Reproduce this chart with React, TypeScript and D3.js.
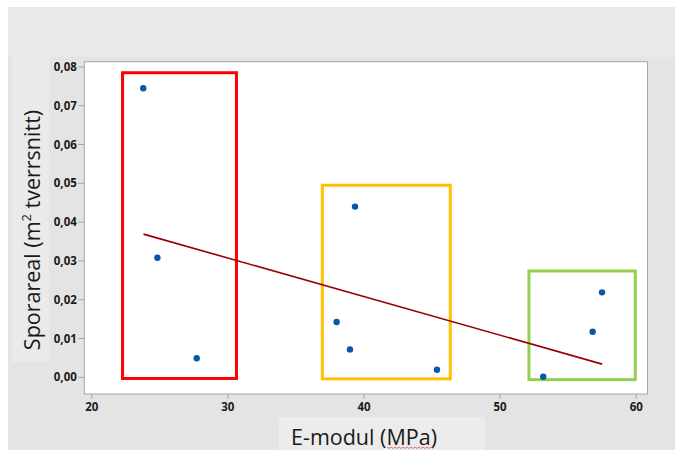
import React, { useEffect, useRef } from "react";
import * as d3 from "d3";

// E-modul (MPa) vs Sporareal (m² tverrsnitt)
const eModul = [23.78, 24.82, 27.71, 39.34, 37.99, 38.97, 45.36, 53.17, 56.8, 57.49];
const sporareal = [0.0745, 0.0308, 0.0049, 0.044, 0.01425, 0.0072, 0.00196, 0.00015, 0.01175, 0.0219];

// fitted line endpoints
const fitX = [23.8, 57.5];
const fitY = [0.0369, 0.0034];

// annotation boxes
const boxNames = ["lav", "middels", "høy"];
const boxX0 = [22.26, 36.94, 52.12];
const boxX1 = [30.63, 46.34, 59.93];
const boxY0 = [-0.0003, -0.0004, -0.0006];
const boxY1 = [0.0785, 0.0495, 0.0274];
const boxColors = ["#ff0000", "#ffc000", "#92d050"];

const xTicks = [20, 30, 40, 50, 60];
const yTicks = [0, 0.01, 0.02, 0.03, 0.04, 0.05, 0.06, 0.07, 0.08];

const W = 675;
const H = 450;
const plot = { left: 84.3, right: 647.5, top: 61.7, bottom: 394 };

export default function App() {
  const ref = useRef<SVGSVGElement>(null);

  useEffect(() => {
    const svg = d3.select(ref.current);
    svg.selectAll("*").remove();

    const x = d3.scaleLinear().domain([19.45, 60.83]).range([plot.left, plot.right]);
    const y = d3.scaleLinear().domain([-0.0043, 0.08134]).range([plot.bottom, plot.top]);

    svg.append("rect").attr("width", W).attr("height", H).attr("fill", "#ffffff");
    svg.append("rect").attr("x", 8).attr("y", 7).attr("width", W - 8).attr("height", 50).attr("fill", "#e9e9e9");
    svg.append("rect").attr("x", 8).attr("y", 57).attr("width", W - 8).attr("height", H - 57).attr("fill", "#e4e4e4");

    // label backgrounds
    svg.append("rect").attr("x", 12).attr("y", 57).attr("width", 37).attr("height", 305).attr("fill", "#eaeaea");
    svg.append("rect").attr("x", 279).attr("y", 417).attr("width", 206).attr("height", 33).attr("fill", "#ececec");

    // plot area
    svg.append("rect")
      .attr("x", plot.left).attr("y", plot.top)
      .attr("width", plot.right - plot.left).attr("height", plot.bottom - plot.top)
      .attr("fill", "#ffffff").attr("stroke", "#a6a6a6").attr("stroke-width", 1);

    const tickFont = "'Open Sans', 'Noto Sans', sans-serif";

    // y axis ticks
    const gy = svg.append("g");
    yTicks.forEach((t) => {
      gy.append("line").attr("x1", plot.left - 6).attr("x2", plot.left).attr("y1", y(t)).attr("y2", y(t))
        .attr("stroke", "#a6a6a6");
      gy.append("text").attr("x", plot.left - 7.5).attr("y", y(t)).attr("dy", "0.35em")
        .attr("text-anchor", "end").attr("font-family", tickFont).attr("font-weight", 700)
        .attr("font-size", 11.5).attr("fill", "#1a1a1a")
        .text(d3.format(".2f")(t).replace(".", ","));
    });

    // x axis ticks
    const gx = svg.append("g");
    xTicks.forEach((t) => {
      gx.append("line").attr("x1", x(t)).attr("x2", x(t)).attr("y1", plot.bottom).attr("y2", plot.bottom + 5)
        .attr("stroke", "#a6a6a6");
      gx.append("text").attr("x", x(t)).attr("y", plot.bottom + 13).attr("dy", "0.35em")
        .attr("text-anchor", "middle").attr("font-family", tickFont).attr("font-weight", 700)
        .attr("font-size", 11.5).attr("fill", "#1a1a1a").text(String(t));
    });

    // boxes
    boxNames.forEach((_, i) => {
      svg.append("rect")
        .attr("x", x(boxX0[i])).attr("y", y(boxY1[i]))
        .attr("width", x(boxX1[i]) - x(boxX0[i])).attr("height", y(boxY0[i]) - y(boxY1[i]))
        .attr("fill", "none").attr("stroke", boxColors[i]).attr("stroke-width", 3);
    });

    // fit line
    const line = d3.line<number>().x((d) => x(fitX[d])).y((d) => y(fitY[d]));
    svg.append("path").attr("d", line([0, 1])).attr("fill", "none")
      .attr("stroke", "#990000").attr("stroke-width", 1.6);

    // points
    svg.append("g").selectAll("circle").data(eModul).join("circle")
      .attr("cx", (d) => x(d)).attr("cy", (_, i) => y(sporareal[i])).attr("r", 3.2)
      .attr("fill", "#0a56a8");

    const titleFont = "'Open Sans', 'Noto Sans', sans-serif";

    // x title
    svg.append("text").attr("x", 364).attr("y", 437).attr("dy", "0.35em")
      .attr("text-anchor", "middle").attr("font-family", titleFont).attr("font-size", 21.5)
      .attr("fill", "#1a1a1a").text("E-modul (MPa)");
    // spell-check squiggle under "MPa"
    const sq = d3.range(0, 24).map((i) => [387 + i * 2, 447 + (i % 2 === 0 ? 0 : 1.5)] as [number, number]);
    svg.append("path").attr("d", d3.line()(sq)).attr("fill", "none").attr("stroke", "#e05050").attr("stroke-width", 0.8);

    // y title
    const yt = svg.append("text").attr("transform", "translate(32,230) rotate(-90)")
      .attr("text-anchor", "middle").attr("dy", "0.35em").attr("font-family", titleFont)
      .attr("font-size", 21.5).attr("fill", "#1a1a1a");
    yt.append("tspan").text("Sporareal (m");
    yt.append("tspan").attr("baseline-shift", "super").attr("font-size", 13).text("2");
    yt.append("tspan").text(" tverrsnitt)");
  }, []);

  return (
    <svg ref={ref} width={W} height={H} style={{ position: "absolute", left: 0, top: 0 }} />
  );
}
